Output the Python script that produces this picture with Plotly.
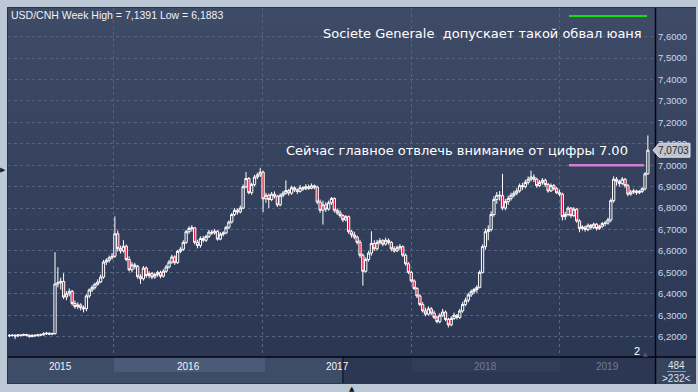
import plotly.graph_objects as go
import pandas as pd

# ---------------- data ----------------
title_text = "USD/CNH Week High = 7,1391 Low = 6,1883"
note_top = "Societe Generale  допускает такой обвал юаня"
note_mid = "Сейчас главное отвлечь внимание от цифры 7.00"
level_700 = 7.00
last_close_label = "7,0703"
last_close = 7.0703
years = [2015, 2016, 2017, 2018, 2019]
y_ticks = [6.2, 6.3, 6.4, 6.5, 6.6, 6.7, 6.8, 6.9, 7.0, 7.1, 7.2, 7.3, 7.4, 7.5, 7.6]
bars_total = "484"
bars_shown = ">232<"
page_no = "2"

week_start = "2015-04-20"

opens = [
 6.206, 6.205, 6.207, 6.203, 6.208, 6.206, 6.210, 6.207, 6.200, 6.206,
 6.204, 6.209, 6.208, 6.213, 6.216, 6.212, 6.214, 6.446, 6.452, 6.458,
 6.385, 6.400, 6.412, 6.355, 6.340, 6.348, 6.335, 6.330, 6.390, 6.418,
 6.430, 6.445, 6.455, 6.478, 6.548, 6.556, 6.568, 6.575, 6.680, 6.612,
 6.600, 6.622, 6.560, 6.512, 6.535, 6.528, 6.480, 6.470, 6.520, 6.485,
 6.495, 6.478, 6.490, 6.500, 6.482, 6.505, 6.525, 6.548, 6.572, 6.545,
 6.598, 6.608, 6.640, 6.690, 6.705, 6.708, 6.640, 6.625, 6.658, 6.650,
 6.668, 6.688, 6.684, 6.692, 6.655, 6.678, 6.684, 6.710, 6.735, 6.770,
 6.790, 6.782, 6.800, 6.900, 6.938, 6.872, 6.910, 6.945, 6.955, 6.968,
 6.843, 6.860, 6.840, 6.865, 6.855, 6.815, 6.860, 6.870, 6.882, 6.870,
 6.895, 6.885, 6.878, 6.895, 6.890, 6.900, 6.892, 6.904, 6.898, 6.828,
 6.790, 6.815, 6.795, 6.825, 6.845, 6.790, 6.778, 6.765, 6.745, 6.760,
 6.690, 6.675, 6.665, 6.640, 6.580, 6.505, 6.560, 6.590, 6.635, 6.610,
 6.640, 6.648, 6.632, 6.650, 6.640, 6.610, 6.600, 6.615, 6.620, 6.580,
 6.540, 6.500, 6.460, 6.425, 6.390, 6.350, 6.320, 6.305, 6.330, 6.310,
 6.290, 6.270, 6.300, 6.315, 6.280, 6.255, 6.285, 6.300, 6.290, 6.320,
 6.350, 6.370, 6.395, 6.410, 6.420, 6.430, 6.500, 6.620, 6.690, 6.700,
 6.770, 6.840, 6.860, 6.858, 6.800, 6.830, 6.845, 6.860, 6.870, 6.880,
 6.905, 6.900, 6.920, 6.935, 6.945, 6.935, 6.905, 6.920, 6.930, 6.910,
 6.880, 6.905, 6.890, 6.872, 6.865, 6.760, 6.770, 6.800, 6.765, 6.795,
 6.740, 6.705, 6.712, 6.700, 6.720, 6.710, 6.725, 6.705, 6.715, 6.728,
 6.730, 6.745, 6.835, 6.935, 6.925, 6.915, 6.935, 6.905, 6.865, 6.875,
 6.880, 6.872, 6.878, 6.890, 6.960,
]
highs = [
 6.212, 6.211, 6.210, 6.212, 6.211, 6.214, 6.213, 6.210, 6.211, 6.212,
 6.213, 6.214, 6.221, 6.222, 6.220, 6.219, 6.594, 6.524, 6.475, 6.496,
 6.412, 6.425, 6.418, 6.368, 6.360, 6.356, 6.345, 6.398, 6.425, 6.440,
 6.452, 6.468, 6.490, 6.558, 6.566, 6.578, 6.590, 6.761, 6.695, 6.625,
 6.650, 6.630, 6.575, 6.548, 6.545, 6.535, 6.492, 6.530, 6.528, 6.505,
 6.502, 6.498, 6.508, 6.508, 6.515, 6.535, 6.558, 6.582, 6.580, 6.605,
 6.618, 6.650, 6.698, 6.715, 6.720, 6.712, 6.652, 6.668, 6.670, 6.675,
 6.698, 6.698, 6.702, 6.698, 6.688, 6.692, 6.718, 6.742, 6.778, 6.800,
 6.798, 6.812, 6.910, 6.968, 6.945, 6.918, 6.955, 6.965, 6.988, 6.975,
 6.872, 6.868, 6.875, 6.878, 6.862, 6.868, 6.880, 6.929, 6.890, 6.905,
 6.902, 6.892, 6.908, 6.902, 6.912, 6.910, 6.915, 6.910, 6.905, 6.840,
 6.835, 6.828, 6.835, 6.852, 6.850, 6.798, 6.790, 6.772, 6.768, 6.765,
 6.698, 6.690, 6.672, 6.652, 6.588, 6.570, 6.600, 6.692, 6.650, 6.652,
 6.660, 6.655, 6.662, 6.658, 6.645, 6.622, 6.625, 6.632, 6.626, 6.588,
 6.548, 6.508, 6.468, 6.432, 6.398, 6.362, 6.335, 6.342, 6.338, 6.322,
 6.298, 6.310, 6.330, 6.322, 6.288, 6.295, 6.312, 6.305, 6.330, 6.362,
 6.382, 6.405, 6.420, 6.428, 6.440, 6.510, 6.630, 6.705, 6.720, 6.785,
 6.855, 6.875, 6.880, 6.960, 6.842, 6.858, 6.872, 6.882, 6.895, 6.915,
 6.918, 6.932, 6.948, 6.975, 6.958, 6.942, 6.930, 6.940, 6.938, 6.918,
 6.915, 6.912, 6.898, 6.885, 6.872, 6.782, 6.808, 6.805, 6.805, 6.800,
 6.748, 6.720, 6.718, 6.728, 6.726, 6.732, 6.730, 6.722, 6.735, 6.740,
 6.755, 6.845, 6.948, 6.945, 6.932, 6.945, 6.940, 6.912, 6.885, 6.890,
 6.886, 6.885, 6.898, 6.968, 7.1391,
]
lows = [
 6.198, 6.200, 6.1883, 6.199, 6.201, 6.203, 6.202, 6.196, 6.198, 6.200,
 6.201, 6.203, 6.205, 6.208, 6.207, 6.207, 6.210, 6.430, 6.420, 6.375,
 6.370, 6.388, 6.345, 6.330, 6.328, 6.322, 6.313, 6.318, 6.380, 6.408,
 6.420, 6.438, 6.450, 6.470, 6.535, 6.545, 6.560, 6.568, 6.598, 6.588,
 6.592, 6.552, 6.505, 6.500, 6.515, 6.470, 6.446, 6.462, 6.475, 6.472,
 6.468, 6.470, 6.480, 6.472, 6.476, 6.498, 6.518, 6.540, 6.535, 6.540,
 6.590, 6.600, 6.632, 6.680, 6.690, 6.630, 6.612, 6.615, 6.640, 6.642,
 6.660, 6.675, 6.676, 6.648, 6.650, 6.668, 6.678, 6.702, 6.728, 6.762,
 6.770, 6.775, 6.795, 6.892, 6.865, 6.862, 6.902, 6.935, 6.945, 6.781,
 6.825, 6.800, 6.832, 6.845, 6.805, 6.808, 6.850, 6.862, 6.858, 6.862,
 6.875, 6.866, 6.872, 6.880, 6.884, 6.885, 6.888, 6.888, 6.818, 6.778,
 6.723, 6.782, 6.788, 6.815, 6.780, 6.768, 6.755, 6.735, 6.738, 6.680,
 6.662, 6.655, 6.630, 6.568, 6.438, 6.498, 6.550, 6.578, 6.600, 6.602,
 6.630, 6.622, 6.625, 6.630, 6.598, 6.592, 6.595, 6.605, 6.572, 6.532,
 6.492, 6.452, 6.418, 6.380, 6.342, 6.312, 6.295, 6.298, 6.300, 6.282,
 6.262, 6.262, 6.292, 6.272, 6.243, 6.248, 6.278, 6.280, 6.282, 6.312,
 6.342, 6.360, 6.385, 6.398, 6.405, 6.425, 6.495, 6.605, 6.650, 6.690,
 6.760, 6.820, 6.835, 6.790, 6.790, 6.815, 6.835, 6.850, 6.860, 6.872,
 6.885, 6.892, 6.910, 6.925, 6.922, 6.895, 6.898, 6.910, 6.900, 6.872,
 6.875, 6.882, 6.865, 6.855, 6.742, 6.745, 6.762, 6.755, 6.758, 6.732,
 6.687, 6.695, 6.690, 6.692, 6.700, 6.702, 6.695, 6.698, 6.708, 6.715,
 6.722, 6.735, 6.825, 6.905, 6.900, 6.908, 6.895, 6.855, 6.858, 6.866,
 6.862, 6.865, 6.870, 6.882, 6.955,
]
closes = [
 6.205, 6.207, 6.203, 6.208, 6.206, 6.210, 6.207, 6.200, 6.206, 6.204,
 6.209, 6.208, 6.213, 6.216, 6.212, 6.214, 6.446, 6.452, 6.458, 6.385,
 6.400, 6.412, 6.355, 6.340, 6.348, 6.335, 6.330, 6.390, 6.418, 6.430,
 6.445, 6.455, 6.478, 6.548, 6.556, 6.568, 6.575, 6.680, 6.612, 6.600,
 6.622, 6.560, 6.512, 6.535, 6.528, 6.480, 6.470, 6.520, 6.485, 6.495,
 6.478, 6.490, 6.500, 6.482, 6.505, 6.525, 6.548, 6.572, 6.545, 6.598,
 6.608, 6.640, 6.690, 6.705, 6.708, 6.640, 6.625, 6.658, 6.650, 6.668,
 6.688, 6.684, 6.692, 6.655, 6.678, 6.684, 6.710, 6.735, 6.770, 6.790,
 6.782, 6.800, 6.900, 6.938, 6.872, 6.910, 6.945, 6.955, 6.968, 6.843,
 6.860, 6.840, 6.865, 6.855, 6.815, 6.860, 6.870, 6.882, 6.870, 6.895,
 6.885, 6.878, 6.895, 6.890, 6.900, 6.892, 6.904, 6.898, 6.828, 6.790,
 6.815, 6.795, 6.825, 6.845, 6.790, 6.778, 6.765, 6.745, 6.760, 6.690,
 6.675, 6.665, 6.640, 6.580, 6.505, 6.560, 6.590, 6.635, 6.610, 6.640,
 6.648, 6.632, 6.650, 6.640, 6.610, 6.600, 6.615, 6.620, 6.580, 6.540,
 6.500, 6.460, 6.425, 6.390, 6.350, 6.320, 6.305, 6.330, 6.310, 6.290,
 6.270, 6.300, 6.315, 6.280, 6.255, 6.285, 6.300, 6.290, 6.320, 6.350,
 6.370, 6.395, 6.410, 6.420, 6.430, 6.500, 6.620, 6.690, 6.700, 6.770,
 6.840, 6.860, 6.858, 6.800, 6.830, 6.845, 6.860, 6.870, 6.880, 6.905,
 6.900, 6.920, 6.935, 6.945, 6.935, 6.905, 6.920, 6.930, 6.910, 6.880,
 6.905, 6.890, 6.872, 6.865, 6.760, 6.770, 6.800, 6.765, 6.795, 6.740,
 6.705, 6.712, 6.700, 6.720, 6.710, 6.725, 6.705, 6.715, 6.728, 6.730,
 6.745, 6.835, 6.935, 6.925, 6.915, 6.935, 6.905, 6.865, 6.875, 6.880,
 6.872, 6.878, 6.890, 6.960, 7.0703,
]

dates = pd.date_range(week_start, periods=len(closes), freq="7D")

# ---------------- geometry / style ----------------
W, H = 698, 392
ML, MR, MT, MB = 8, 43, 8, 35
PW, PH = W - ML - MR, H - MT - MB
X_RANGE = ["2015-04-16 12:00", "2019-08-22 12:00"]
Y_RANGE = [6.105, 7.734]


def fx(px):
    return (px - ML) / PW


def fy(py):
    return (H - MB - py) / PH


def lerp_color(c1, c2, t):
    a = [int(c1[i:i + 2], 16) for i in (1, 3, 5)]
    b = [int(c2[i:i + 2], 16) for i in (1, 3, 5)]
    return "#%02x%02x%02x" % tuple(round(a[k] + (b[k] - a[k]) * t) for k in range(3))


shapes = []
# panel border
shapes.append(dict(type="rect", xref="paper", yref="paper", x0=fx(7), x1=fx(696),
                   y0=fy(7), y1=fy(384), fillcolor="#2a3243", line=dict(width=0), layer="below"))
# gradient background of chart panel
N = 40
top_c, bot_c = "#3e4b66", "#2b3754"
for k in range(N):
    py0 = 8 + (357 - 8) * k / N
    py1 = 8 + (357 - 8) * (k + 1) / N + 0.6
    shapes.append(dict(type="rect", xref="paper", yref="paper", x0=fx(8), x1=fx(696),
                       y0=fy(py1), y1=fy(py0), fillcolor=lerp_color(top_c, bot_c, k / (N - 1)),
                       line=dict(width=0), layer="below"))
# bottom navigator strip
shapes += [
    dict(type="rect", xref="paper", yref="paper", x0=fx(8), x1=fx(696), y0=fy(384), y1=fy(357),
         fillcolor="#2c3853", line=dict(width=0), layer="below"),
    dict(type="rect", xref="paper", yref="paper", x0=fx(8), x1=fx(343), y0=fy(383), y1=fy(357),
         fillcolor="#3e4c67", line=dict(width=0), layer="below"),
    dict(type="rect", xref="paper", yref="paper", x0=fx(114), x1=fx(265), y0=fy(372), y1=fy(357),
         fillcolor="#4a5a77", line=dict(width=0), layer="below"),
    dict(type="rect", xref="paper", yref="paper", x0=fx(412), x1=fx(560), y0=fy(372), y1=fy(357),
         fillcolor="#303c58", line=dict(width=0), layer="below"),
    dict(type="rect", xref="paper", yref="paper", x0=fx(656), x1=fx(696), y0=fy(384), y1=fy(357),
         fillcolor="#37445e", line=dict(width=0), layer="below"),
    dict(type="line", xref="paper", yref="paper", x0=fx(343), x1=fx(343), y0=fy(383), y1=fy(357),
         line=dict(color="#1c2333", width=2), layer="below"),
    dict(type="line", xref="paper", yref="paper", x0=fx(8), x1=fx(696), y0=fy(357), y1=fy(357),
         line=dict(color="#05070c", width=1.5)),
    dict(type="line", xref="paper", yref="paper", x0=fx(655.5), x1=fx(655.5), y0=fy(384), y1=fy(8),
         line=dict(color="#05070c", width=1.5)),
    dict(type="line", xref="paper", yref="paper", x0=fx(667), x1=fx(686), y0=fy(371.5), y1=fy(371.5),
         line=dict(color="#8d99ad", width=1)),
]
# annotation lines
shapes.append(dict(type="line", xref="paper", yref="paper", x0=fx(569), x1=fx(647), y0=fy(16), y1=fy(16),
                   line=dict(color="#10e010", width=2)))
shapes.append(dict(type="line", xref="paper", yref="y", x0=fx(569), x1=fx(644), y0=level_700, y1=level_700,
                   line=dict(color="#cf7fd6", width=2.5)))
# last price box
shapes.append(dict(type="path", xref="paper", yref="y", xsizemode="pixel", ysizemode="pixel",
                   xanchor=1, yanchor=last_close,
                   path="M -2,0 L 4,-7 L 35,-7 L 35,7 L 4,7 Z",
                   fillcolor="#c0c4cc", line=dict(color="#dfe2e7", width=1)))

annotations = [
    dict(text=title_text, xref="paper", yref="paper", x=fx(9), y=fy(15), xanchor="left", yanchor="middle",
         showarrow=False, font=dict(family="Liberation Sans", size=10.5, color="#eef2f8")),
    dict(text=note_top, xref="paper", yref="paper", x=fx(644), y=fy(34), xanchor="right", yanchor="middle",
         showarrow=False, font=dict(family="DejaVu Sans", size=13, color="#ffffff")),
    dict(text=note_mid, xref="paper", yref="paper", x=fx(630), y=fy(150), xanchor="right", yanchor="middle",
         showarrow=False, font=dict(family="DejaVu Sans", size=13, color="#ffffff")),
    dict(text=last_close_label, xref="paper", yref="y", x=fx(673), y=last_close, xanchor="center",
         yanchor="middle", showarrow=False, font=dict(family="Liberation Sans", size=10, color="#232b3a")),
    dict(text=bars_total, xref="paper", yref="paper", x=fx(676), y=fy(365), xanchor="center", yanchor="middle",
         showarrow=False, font=dict(family="Liberation Sans", size=10, color="#dde4ee")),
    dict(text=bars_shown, xref="paper", yref="paper", x=fx(676), y=fy(378.5), xanchor="center", yanchor="middle",
         showarrow=False, font=dict(family="Liberation Sans", size=10, color="#dde4ee")),
    dict(text=page_no, xref="paper", yref="paper", x=fx(637), y=fy(351), xanchor="center", yanchor="middle",
         showarrow=False, font=dict(family="Liberation Sans", size=11, color="#ffffff")),
    dict(text="▲", xref="paper", yref="paper", x=fx(645), y=fy(353), xanchor="center", yanchor="middle",
         showarrow=False, font=dict(family="DejaVu Sans", size=6, color="#4d5872")),
    dict(text="▶", xref="paper", yref="paper", x=fx(3), y=fy(170), xanchor="center", yanchor="middle",
         showarrow=False, font=dict(family="DejaVu Sans", size=7, color="#1a1f2a")),
    dict(text="▲", xref="paper", yref="paper", x=fx(352), y=fy(389), xanchor="center", yanchor="middle",
         showarrow=False, font=dict(family="DejaVu Sans", size=7, color="#111111")),
]

# year labels centred in the visible part of each year
x0 = pd.Timestamp(X_RANGE[0])
x1 = pd.Timestamp(X_RANGE[1])
for yr in years:
    a = max(pd.Timestamp(f"{yr}-01-01"), x0)
    b = min(pd.Timestamp(f"{yr + 1}-01-01"), x1)
    mid = a + (b - a) / 2
    col = "#f2f5fa" if yr <= 2017 else "#6f7d93"
    annotations.append(dict(text=str(yr), xref="x", yref="paper", x=mid, y=fy(366), xanchor="center",
                            yanchor="middle", showarrow=False,
                            font=dict(family="Liberation Sans", size=10, color=col)))

fig = go.Figure()
fig.add_trace(go.Candlestick(
    x=dates, open=opens, high=highs, low=lows, close=closes,
    increasing=dict(line=dict(color="#ffffff", width=1), fillcolor="rgba(0,0,0,0)"),
    decreasing=dict(line=dict(color="#ffffff", width=1), fillcolor="#e8173f"),
    whiskerwidth=0, showlegend=False, hoverinfo="skip",
))

fig.update_layout(
    width=W, height=H,
    margin=dict(l=ML, r=MR, t=MT, b=MB, pad=0),
    paper_bgcolor="#bdc8d7",
    plot_bgcolor="rgba(0,0,0,0)",
    separators=", ",
    showlegend=False,
    boxgap=0.2, boxgroupgap=0,
    shapes=shapes,
    annotations=annotations,
    xaxis=dict(
        type="date", range=X_RANGE, rangeslider=dict(visible=False),
        tickmode="array", tickvals=[f"{yr}-01-01" for yr in years[1:]],
        showticklabels=False, ticks="",
        showgrid=True, gridcolor="#56647f", griddash="3px,3px", gridwidth=1,
        showline=False, zeroline=False,
    ),
    yaxis=dict(
        side="right", range=Y_RANGE, tickmode="array", tickvals=y_ticks, tickformat=".4f",
        tickfont=dict(family="Liberation Sans", size=9.5, color="#c9d8ec"),
        ticks="", showgrid=True, gridcolor="#56647f", griddash="3px,3px", gridwidth=1,
        showline=False, zeroline=False, ticklabelstandoff=2,
    ),
)

fig.write_html("out.html")
